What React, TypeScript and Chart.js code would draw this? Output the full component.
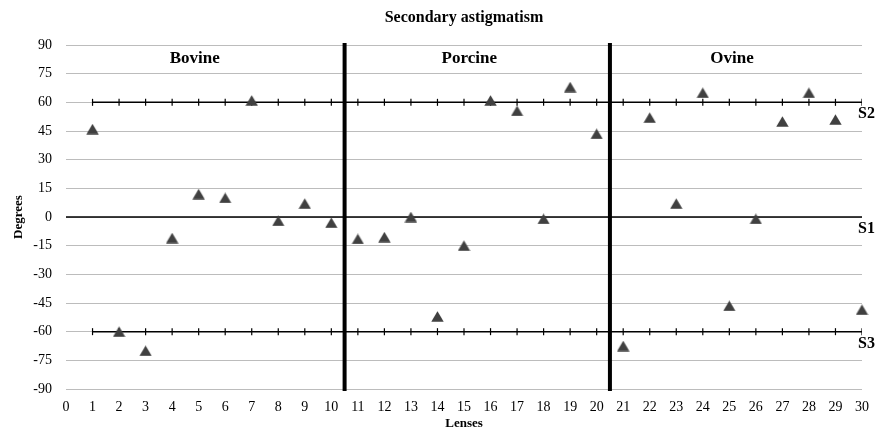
import React, { useEffect, useRef } from "react";
import { Chart, registerables } from "chart.js";

Chart.register(...registerables);

const lenses = [1, 2, 3, 4, 5, 6, 7, 8, 9, 10, 11, 12, 13, 14, 15, 16, 17, 18, 19, 20, 21, 22, 23, 24, 25, 26, 27, 28, 29, 30];
const degrees = [46, -60, -70, -11, 12, 10, 61, -2, 7, -3, -11.5, -10.5, 0, -52, -15, 61, 55.5, -1, 68, 43.5, -67.5, 52, 7, 65, -46.5, -1, 50, 65, 51, -48.5];

const groupNames = ["Bovine", "Porcine", "Ovine"];
const groupCenters = [4.85, 15.2, 25.1];
const dividers = [10.5, 20.5];
const refNames = ["S2", "S1", "S3"];
const refLevels = [60, 0, -60];

const SERIF = '"Liberation Serif", "Times New Roman", serif';

function makeTriangle(): HTMLCanvasElement {
  const c = document.createElement("canvas");
  const w = 13;
  const h = 11;
  c.width = w;
  c.height = h;
  const g = c.getContext("2d")!;
  g.fillStyle = "#404040";
  g.beginPath();
  g.moveTo(w / 2, 0.3);
  g.lineTo(w - 0.3, h - 0.3);
  g.lineTo(0.3, h - 0.3);
  g.closePath();
  g.fill();
  return c;
}

const labelPlugin = {
  id: "labels",
  afterDatasetsDraw(chart: any) {
    const { ctx, chartArea, scales } = chart;
    const x = scales.x;
    const y = scales.y;
    ctx.save();
    ctx.fillStyle = "#000";
    ctx.textBaseline = "middle";
    ctx.textAlign = "center";
    ctx.font = `bold 17px ${SERIF}`;
    groupNames.forEach((n, i) => {
      ctx.fillText(n, x.getPixelForValue(groupCenters[i]), y.getPixelForValue(90) + 14);
    });
    ctx.textAlign = "left";
    ctx.font = `bold 16px ${SERIF}`;
    refNames.forEach((n, i) => {
      ctx.fillText(n, chartArea.right - 4, y.getPixelForValue(refLevels[i]) + 12);
    });
    ctx.textAlign = "center";
    ctx.font = `bold 16px ${SERIF}`;
    ctx.fillText("Secondary astigmatism", (chartArea.left + chartArea.right) / 2, 18);
    ctx.restore();
  },
};

export default function App() {
  const ref = useRef<HTMLCanvasElement>(null);
  useEffect(() => {
    if (!ref.current) return;
    const tri = makeTriangle();
    const points = lenses.map((l, i) => ({ x: l, y: degrees[i] }));
    const refSets: any[] = refLevels.map((lv) => {
      const withTicks = lv !== 0;
      const xs = withTicks ? lenses : [0, ...lenses];
      return {
        type: "line",
        data: xs.map((l) => ({ x: l, y: lv })),
        borderColor: "#000",
        borderWidth: 1.5,
        showLine: true,
        pointStyle: "line",
        rotation: 90,
        pointRadius: withTicks ? 3.5 : 0,
        pointBorderColor: "#000",
        pointBorderWidth: 1.2,
        order: 2,
        fill: false,
      };
    });
    const divSets: any[] = dividers.map((d) => ({
      type: "line",
      data: [
        { x: d, y: -90 },
        { x: d, y: 90 },
      ],
      borderColor: "#000",
      borderWidth: 4,
      borderCapStyle: "square",
      pointRadius: 0,
      showLine: true,
      clip: false,
      order: 1,
    }));
    const chart = new Chart(ref.current, {
      type: "scatter",
      data: {
        datasets: [
          {
            data: points,
            pointStyle: tri,
            pointRadius: 7,
            clip: false,
            order: 0,
          } as any,
          ...refSets,
          ...divSets,
        ],
      },
      options: {
        animation: false,
        responsive: false,
        layout: { padding: { top: 45, right: 18, left: 0, bottom: 0 } },
        plugins: {
          legend: { display: false },
          tooltip: { enabled: false },
          title: { display: false },
        },
        scales: {
          x: {
            type: "linear",
            min: 0,
            max: 30,
            border: { display: false },
            grid: { display: false, drawTicks: false },
            ticks: {
              stepSize: 1,
              color: "#000",
              padding: 10,
              font: { family: SERIF, size: 14 },
            },
            title: {
              display: true,
              text: "Lenses",
              color: "#000",
              padding: { top: 0, bottom: 0 },
              font: { family: SERIF, size: 13, weight: "bold" },
            },
            afterFit: (s: any) => {
              s.height = 42;
            },
          },
          y: {
            min: -90,
            max: 90,
            border: { display: false },
            grid: { color: "#bcbcbc", lineWidth: 1, drawTicks: false },
            ticks: {
              stepSize: 15,
              color: "#000",
              padding: 14,
              font: { family: SERIF, size: 14 },
            },
            title: {
              display: true,
              text: "Degrees",
              color: "#000",
              padding: { top: 11, bottom: 0 },
              font: { family: SERIF, size: 13, weight: "bold" },
            },
            afterFit: (s: any) => {
              s.width = 66;
            },
          },
        },
      } as any,
      plugins: [labelPlugin],
    });
    return () => chart.destroy();
  }, []);
  return (
    <div style={{ position: "fixed", left: 0, top: 0, width: 880, height: 431, background: "#fff" }}>
      <canvas ref={ref} width={880} height={431} style={{ width: 880, height: 431 }} />
    </div>
  );
}
